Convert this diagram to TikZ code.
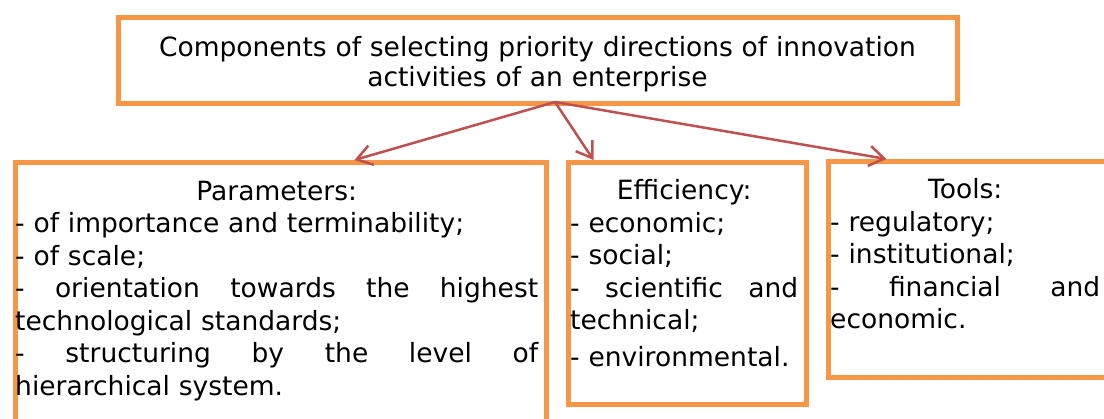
\documentclass[tikz,border=0pt]{standalone}
\usepackage{fontspec}
\setmainfont{DejaVu Sans}
\usetikzlibrary{arrows.meta}
\definecolor{boxorange}{HTML}{F79646}
\definecolor{arrowred}{HTML}{C0504D}
\newcommand{\spreadline}[1]{{\spaceskip=0.3em plus 1fil\makebox[\linewidth][s]{#1}}}
\newcommand{\midline}[1]{\makebox[\linewidth][c]{#1}}

\begin{document}
\begin{tikzpicture}[x=1pt,y=-1pt,
    panel/.style={draw=boxorange, line width=5pt, anchor=north west, inner sep=0pt},
    body/.style={anchor=north west, inner sep=0pt, align=left, font=\fontsize{26.5}{32.5}\selectfont},
    link/.style={draw=arrowred, line width=2.5pt, -{Straight Barb[length=15pt,width=20pt]}}]
    \useasboundingbox (0,0) rectangle (1104,419);

    \node[panel, minimum width=839pt, minimum height=86pt, text width=820pt, align=center,
          font=\fontsize{26.5}{30}\selectfont] (top) at (115.5,15.5)
          {\rule{0pt}{26pt}Components of selecting priority directions of innovation\\activities of an enterprise};
    \node[panel, minimum width=531pt, minimum height=300pt] (params) at (12.5,160) {};
    \node[panel, minimum width=238.4pt, minimum height=241.8pt] (eff) at (565.8,160) {};
    \node[panel, minimum width=290pt, minimum height=215.8pt] (tools) at (825.8,159) {};

    \node[body, text width=523pt] (paramstext) at (15,180.5) {%
        \midline{Parameters:}\\
        - of importance and terminability;\\
        - of scale;\\
        \spreadline{- orientation towards the highest}\\
        technological standards;\\
        \spreadline{- structuring by the level of}\\
        hierarchical system.};
    \node[body, text width=228pt] (efftext) at (570,179.5) {%
        \midline{Efficiency:}\\
        - economic;\\
        - social;\\
        \spreadline{- scientific and}\\
        technical;\\[4pt]
        - environmental.};
    \node[body, text width=270pt] (toolstext) at (830,178.5) {%
        \midline{Tools:}\\
        - regulatory;\\
        - institutional;\\
        \spreadline{- financial and}\\
        economic.};

    \coordinate (fork) at (555,102);
    \draw[link] (fork) -- ([xshift=342pt]params.north west);
    \draw[link] (fork) -- ([xshift=27.7pt]eff.north west);
    \draw[link] (fork) -- ([xshift=60.7pt]tools.north west);
\end{tikzpicture}
\end{document}
